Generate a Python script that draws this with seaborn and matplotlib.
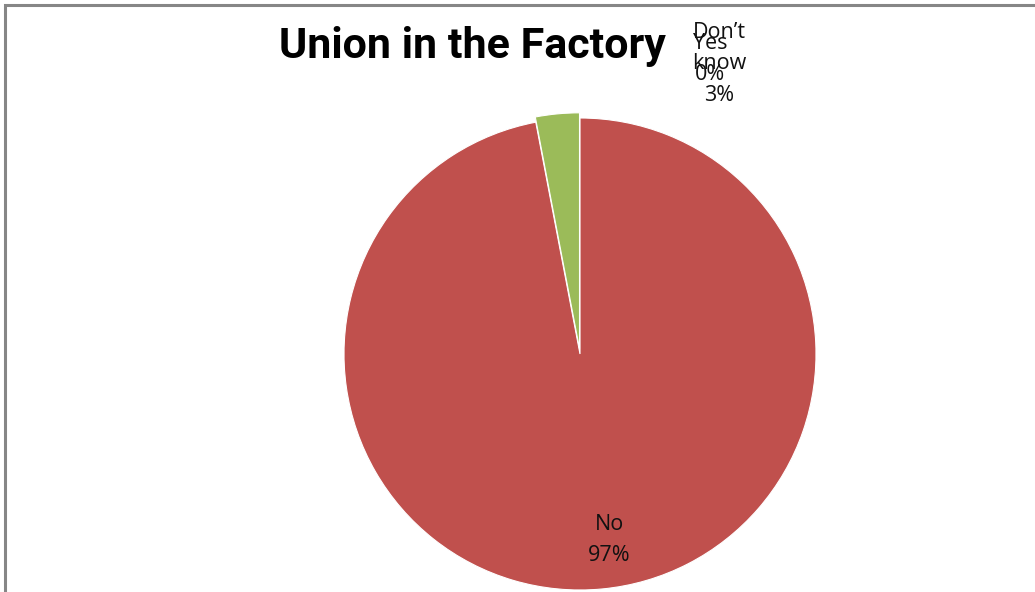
import matplotlib
matplotlib.use("Agg")
import matplotlib.pyplot as plt
import seaborn as sns
from matplotlib.patches import Rectangle

# Survey answers: is there a union in the factory?
categories = ["Yes", "No", "Don\u2019t\nknow"]
shares = [0, 97, 3]
slice_colors = ["#4F81BD", "#C0504D", "#9BBB59"]

sns.set_theme(style="white")
plt.rcParams["font.family"] = ["Open Sans", "DejaVu Sans"]

fig = plt.figure(figsize=(10.35, 5.92), dpi=100)
ax = fig.add_axes([0, 0, 1, 1])

wedges, _ = ax.pie(
    shares,
    colors=sns.color_palette(slice_colors),
    startangle=90,
    counterclock=False,
    explode=[0, 0, 0.022],
    radius=1.0,
    wedgeprops=dict(linewidth=0.8, edgecolor="white"),
)

# pie centre sits at (0, 0); 236 px per data unit
scale = 236.0
cx, cy = 580.0, 354.0
ax.set_xlim(-cx / scale, (1035 - cx) / scale)
ax.set_ylim(-(592 - cy) / scale, cy / scale)
ax.set_aspect("auto")
ax.axis("off")

label_pos = {
    "Yes": (0.551, 1.25),
    "No": (0.123, -0.788),
    "Don\u2019t\nknow": (0.589, 1.229),
}
for cat, val in zip(categories, shares):
    x, y = label_pos[cat]
    ax.text(x, y, f"{cat}\n{val}%", ha="center", va="center",
            fontsize=15.5, color="#111111", linespacing=1.65)

fig.text(472 / 1035, 1 - 58 / 592, "Union in the Factory", ha="center",
         va="baseline", fontsize=31, fontweight="bold", color="black",
         family=["Roboto", "DejaVu Sans"])

# chart-area border (left and top edges visible)
fig.patches.append(Rectangle((5 / 1035, -0.05), 1.2, 1 - 5 / 592 + 0.05,
                             transform=fig.transFigure, fill=False,
                             edgecolor="#868686", linewidth=2.2))

fig.savefig("out.png", dpi=100)
